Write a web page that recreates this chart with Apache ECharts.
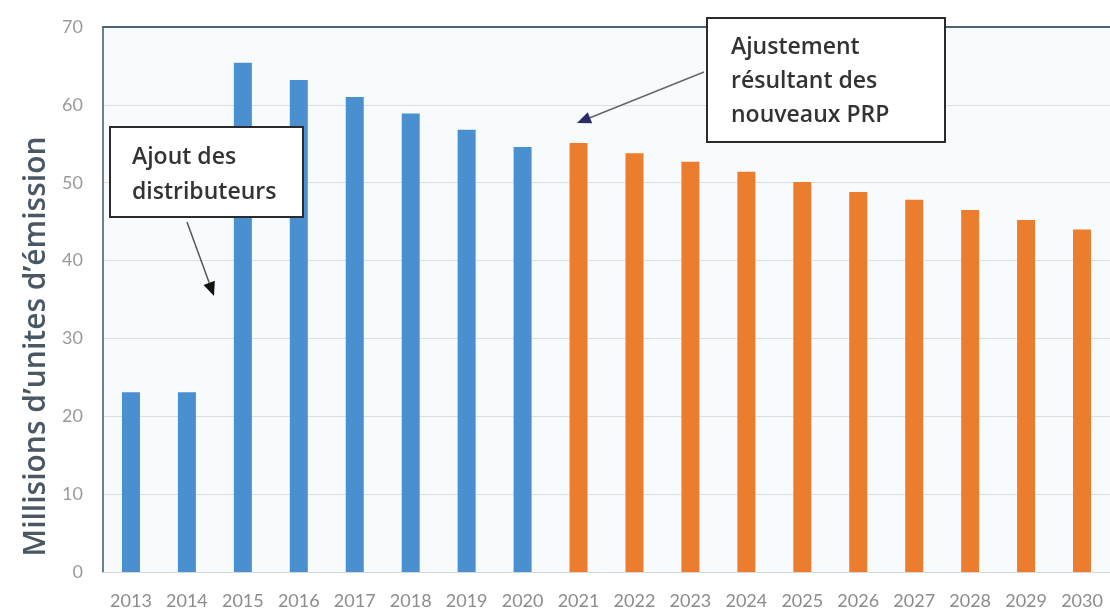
<!DOCTYPE html>
<html>
<head>
<meta charset="utf-8">
<script src="https://cdn.jsdelivr.net/npm/echarts@6/dist/echarts.min.js"></script>
<style>
  html, body { margin: 0; padding: 0; background: #fff; }
  #chart { width: 1110px; height: 611px; }
</style>
</head>
<body>
<div id="chart"></div>
<script>
var years = ['2013', '2014', '2015', '2016', '2017', '2018', '2019', '2020', '2021',
    '2022', '2023', '2024', '2025', '2026', '2027', '2028', '2029', '2030'];
// historical caps (blue) then projected caps (orange), millions of units
var historique = [23.1, 23.1, 65.4, 63.2, 61.0, 58.9, 56.8, 54.6];
var projection = [55.1, 53.8, 52.7, 51.4, 50.1, 48.8, 47.8, 46.5, 45.2, 44.0];
var yTicks = { min: 0, max: 70, step: 10 };

var histData = [];
var projData = [];
for (var i = 0; i < years.length; i++) {
    if (i < historique.length) {
        histData.push(historique[i]);
        projData.push('-');
    } else {
        histData.push('-');
        projData.push(projection[i - historique.length]);
    }
}

// arrow helper: line plus a filled triangle head at (x2, y2)
function arrow(x1, y1, x2, y2, lineColor, headColor) {
    var dx = x2 - x1, dy = y2 - y1;
    var len = Math.sqrt(dx * dx + dy * dy);
    var ux = dx / len, uy = dy / len;
    var hl = 14, hw = 6;
    var bx = x2 - ux * hl, by = y2 - uy * hl;
    return [
        {
            type: 'line', z: 100,
            shape: { x1: x1, y1: y1, x2: bx, y2: by },
            style: { stroke: lineColor, lineWidth: 1.5 }
        },
        {
            type: 'polygon', z: 100,
            shape: { points: [[x2, y2], [bx - uy * hw, by + ux * hw], [bx + uy * hw, by - ux * hw]] },
            style: { fill: headColor }
        }
    ];
}

var chart = echarts.init(document.getElementById('chart'));

var graphics = [
    {
        type: 'rect', z: 100,
        shape: { x: 110, y: 127, width: 193, height: 90 },
        style: { fill: '#fff', stroke: '#2b2b2b', lineWidth: 2 }
    },
    {
        type: 'text', z: 101, left: 132, top: 140,
        style: {
            text: 'Ajout des\ndistributeurs', fill: '#333',
            font: '600 23px "Open Sans"', lineHeight: 35
        }
    },
    {
        type: 'rect', z: 100,
        shape: { x: 707, y: 18, width: 238, height: 124 },
        style: { fill: '#fff', stroke: '#2b2b2b', lineWidth: 2 }
    },
    {
        type: 'text', z: 101, left: 731, top: 30,
        style: {
            text: 'Ajustement\nrésultant des\nnouveaux PRP', fill: '#333',
            font: '600 23px "Open Sans"', lineHeight: 34
        }
    }
].concat(arrow(187, 222, 214, 296, '#555', '#111'))
 .concat(arrow(704, 72, 577, 123, '#666', '#2a2a66'));

var option = {
    backgroundColor: '#ffffff',
    animation: false,
    grid: {
        left: 103, right: 0, top: 27, bottom: 39,
        show: true, backgroundColor: '#f8fbfd', borderWidth: 0
    },
    xAxis: [
        {
            type: 'category',
            data: years,
            axisLine: { show: true, lineStyle: { color: '#d9d9d9', width: 1 } },
            axisTick: { show: false },
            axisLabel: { color: '#8c8c8c', fontSize: 18, fontFamily: 'Lato', margin: 20 }
        },
        {
            type: 'category',
            position: 'top',
            data: years,
            axisLine: { show: true, lineStyle: { color: '#4e6272', width: 2 } },
            axisTick: { show: false },
            axisLabel: { show: false }
        }
    ],
    yAxis: {
        type: 'value',
        min: yTicks.min,
        max: yTicks.max,
        interval: yTicks.step,
        name: "Millisions d\u2019unites d\u2019émission",
        nameLocation: 'middle',
        nameGap: 51,
        nameTextStyle: {
            color: '#4a5764', fontSize: 30, fontWeight: 600, fontFamily: 'Open Sans',
            padding: [0, 94, 0, 0]
        },
        axisLine: { show: true, lineStyle: { color: '#6d8190', width: 2 } },
        axisTick: { show: false },
        axisLabel: { color: '#9a9a9a', fontSize: 18, fontFamily: 'Lato', margin: 20 },
        splitLine: { lineStyle: { color: '#dedede', width: 1 } }
    },
    series: [
        {
            name: 'Historique',
            type: 'bar',
            data: histData,
            barWidth: 18,
            barGap: '-100%',
            itemStyle: { color: '#4a8fcf' }
        },
        {
            name: 'Projection',
            type: 'bar',
            data: projData,
            barWidth: 18,
            barGap: '-100%',
            itemStyle: { color: '#ec7c2e' }
        }
    ],
    graphic: graphics
};

chart.setOption(option);
</script>
</body>
</html>
